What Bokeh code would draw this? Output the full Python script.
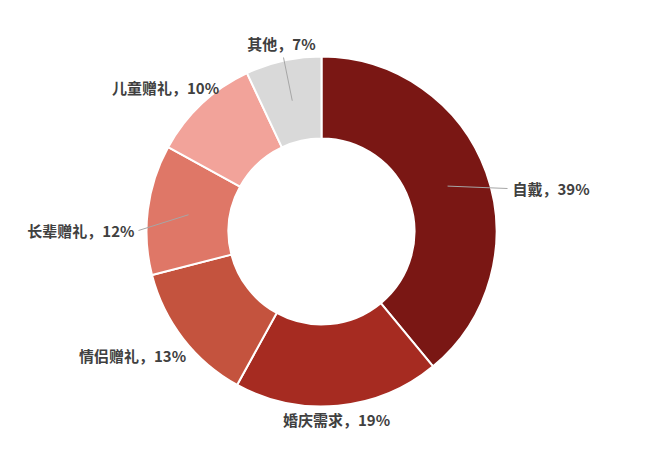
import numpy as np
from bokeh.plotting import figure
from bokeh.models import Range1d, ColumnDataSource
from bokeh.core.properties import value
from bokeh.embed import file_html
from bokeh.resources import INLINE

# Data
categories = ["自戴", "婚庆需求", "情侣赠礼", "长辈赠礼", "儿童赠礼", "其他"]
shares = [39, 19, 13, 12, 10, 7]
colors = ["#7a1714", "#a62b21", "#c4533e", "#df7767", "#f2a39a", "#d9d9d9"]

# label placement (page pixels), as positioned in the original chart
label_x = [512, 336, 132, 134, 165, 281]
label_y = [188, 419, 355, 230, 87, 43]
label_align = ["left", "center", "center", "right", "center", "center"]
leader_end_x = [507, None, None, 138, None, 283]
leader_end_y = [188, None, None, 230, None, 57]

W, H = 646, 439
cx, cy = 321, 231
outer_r, inner_r = 175, 93

p = figure(width=W, height=H, output_backend="svg", toolbar_location=None,
           x_range=Range1d(0, W), y_range=Range1d(-H, 0),
           min_border=0, outline_line_color=None)
p.axis.visible = False
p.grid.visible = False

# wedges, clockwise from 12 o'clock
frac = np.array(shares) / sum(shares)
cum = np.concatenate([[0], np.cumsum(frac)])
start = np.pi / 2 - 2 * np.pi * cum[:-1]
end = np.pi / 2 - 2 * np.pi * cum[1:]
mid = (start + end) / 2

src = ColumnDataSource(dict(start=start, end=end, color=colors))
p.annular_wedge(x=cx, y=-cy, inner_radius=inner_r, outer_radius=outer_r,
                start_angle="start", end_angle="end", direction="clock",
                fill_color="color", line_color="white", line_width=2,
                source=src)

# leader lines from the middle of the ring
ring_mid = (outer_r + inner_r) / 2
for i in range(len(categories)):
    if leader_end_x[i] is None:
        continue
    x0 = cx + ring_mid * np.cos(mid[i])
    y0 = -cy + ring_mid * np.sin(mid[i])
    p.line([x0, leader_end_x[i]], [y0, -leader_end_y[i]],
           line_color="#a6a6a6", line_width=1)

labels = [f"{c}，{s}%" for c, s in zip(categories, shares)]
lsrc = ColumnDataSource(dict(x=label_x, y=[-v for v in label_y],
                             text=labels, align=label_align))
p.text(x="x", y="y", text="text", text_align="align", text_baseline="middle",
       text_font=value("Noto Sans CJK SC"), text_font_size="15px",
       text_font_style="bold", text_color="#404040", source=lsrc)

open("out.html", "w").write(file_html(p, INLINE))
